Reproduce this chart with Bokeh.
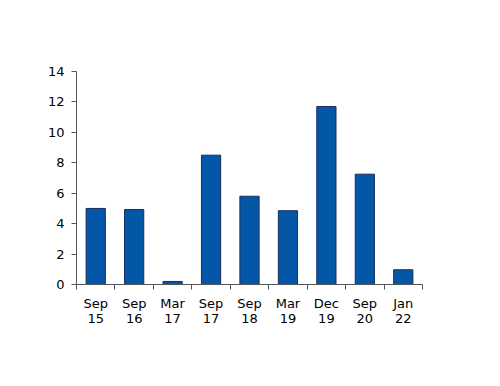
from bokeh.plotting import figure
from bokeh.models import FixedTicker, Range1d, ColumnDataSource
from bokeh.embed import file_html
from bokeh.resources import INLINE

categories = ["Sep\n15", "Sep\n16", "Mar\n17", "Sep\n17", "Sep\n18", "Mar\n19", "Dec\n19", "Sep\n20", "Jan\n22"]
values = [5.0, 4.93, 0.2, 8.5, 5.8, 4.85, 11.7, 7.25, 0.97]
y_ticks = [0, 2, 4, 6, 8, 10, 12, 14]

n = len(categories)
xs = [i + 0.5 for i in range(n)]
src = ColumnDataSource(dict(x=xs, top=values))

p = figure(width=492, height=378, output_backend="svg", toolbar_location=None,
           x_range=Range1d(0, n), y_range=Range1d(0, 14),
           min_border_left=76, min_border_right=70, min_border_top=71, min_border_bottom=94)
p.outline_line_color = None
p.grid.visible = False

p.vbar(x="x", top="top", width=0.5, bottom=0, source=src,
       fill_color="#0457A6", line_color="#1B2C5E", line_width=1)

font = "DejaVu Sans"
xa = p.xaxis[0]
xa.ticker = FixedTicker(ticks=xs, minor_ticks=list(range(n + 1)))
xa.major_label_overrides = {x: c for x, c in zip(xs, categories)}
xa.major_tick_line_color = None
xa.minor_tick_out = 5
xa.minor_tick_in = 0
xa.minor_tick_line_color = "#555555"
xa.axis_line_color = "#555555"
xa.major_label_text_font = font
xa.major_label_text_font_size = "13px"
xa.major_label_text_color = "#000000"
xa.major_label_text_line_height = 1.05
xa.major_label_standoff = 5

ya = p.yaxis[0]
ya.ticker = FixedTicker(ticks=y_ticks)
ya.major_tick_out = 5
ya.major_tick_in = 0
ya.minor_tick_line_color = None
ya.axis_line_color = "#555555"
ya.major_tick_line_color = "#555555"
ya.major_label_text_font = font
ya.major_label_text_font_size = "13px"
ya.major_label_text_color = "#000000"
ya.major_label_standoff = 7

open("out.html", "w").write(file_html(p, INLINE))
